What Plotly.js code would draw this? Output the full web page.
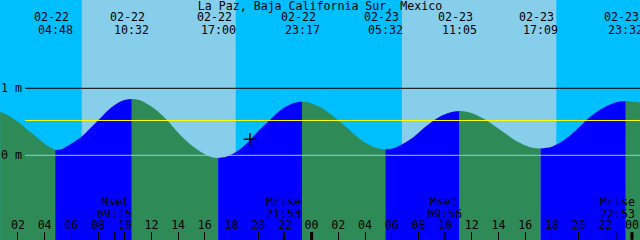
<!DOCTYPE html>
<html>
<head>
<meta charset="utf-8">
<script src="https://cdn.plot.ly/plotly-3.0.1.min.js"></script>
<style>
  html, body { margin: 0; padding: 0; background: #00BFFF; }
  #chart { width: 640px; height: 240px; }
</style>
</head>
<body>
<div id="chart"></div>
<script>
// ---------------- data ----------------
const stationName = "La Paz, Baja California Sur, Mexico";

// tide level (metres)
const curveTimes = [
  "2024-02-22 00:40","2024-02-22 01:24","2024-02-22 02:09","2024-02-22 02:54","2024-02-22 03:39","2024-02-22 04:24",
  "2024-02-22 04:48",
  "2024-02-22 05:15","2024-02-22 05:39","2024-02-22 06:47","2024-02-22 07:24","2024-02-22 08:09","2024-02-22 08:54","2024-02-22 09:39","2024-02-22 10:05",
  "2024-02-22 10:32",
  "2024-02-22 11:00","2024-02-22 11:24","2024-02-22 12:24","2024-02-22 13:09","2024-02-22 13:54","2024-02-22 14:39","2024-02-22 15:24","2024-02-22 16:09","2024-02-22 16:35",
  "2024-02-22 17:00",
  "2024-02-22 17:25","2024-02-22 17:53","2024-02-22 18:38","2024-02-22 19:23","2024-02-22 20:08","2024-02-22 20:46","2024-02-22 21:38","2024-02-22 22:23","2024-02-22 22:50",
  "2024-02-22 23:17",
  "2024-02-22 23:45","2024-02-23 00:38","2024-02-23 01:23","2024-02-23 02:08","2024-02-23 02:53","2024-02-23 03:38","2024-02-23 04:22","2024-02-23 05:00",
  "2024-02-23 05:32",
  "2024-02-23 06:05","2024-02-23 06:45","2024-02-23 07:37","2024-02-23 08:37","2024-02-23 09:37","2024-02-23 10:22",
  "2024-02-23 11:05",
  "2024-02-23 11:35","2024-02-23 12:07","2024-02-23 13:07","2024-02-23 14:07","2024-02-23 15:07","2024-02-23 16:07","2024-02-23 16:40",
  "2024-02-23 17:09",
  "2024-02-23 17:30","2024-02-23 17:52","2024-02-23 18:37","2024-02-23 19:22","2024-02-23 20:06","2024-02-23 20:51","2024-02-23 21:36","2024-02-23 22:21","2024-02-23 23:00",
  "2024-02-23 23:32",
  "2024-02-24 00:05","2024-02-24 00:36"
];
const curveLevels = [
  0.65, 0.58, 0.48, 0.35, 0.23, 0.12,
  0.08,
  0.09, 0.13, 0.28, 0.40, 0.55, 0.70, 0.80, 0.83,
  0.84,
  0.83, 0.80, 0.67, 0.53, 0.36, 0.21, 0.09, 0.00, -0.03,
  -0.04,
  -0.03, 0.00, 0.09, 0.23, 0.39, 0.51, 0.67, 0.76, 0.79,
  0.80,
  0.79, 0.72, 0.62, 0.50, 0.37, 0.24, 0.15, 0.10,
  0.09,
  0.10, 0.16, 0.27, 0.44, 0.58, 0.64,
  0.66,
  0.65, 0.62, 0.52, 0.38, 0.24, 0.14, 0.11,
  0.10,
  0.11, 0.12, 0.19, 0.30, 0.43, 0.57, 0.68, 0.76, 0.80,
  0.81,
  0.80, 0.79
];

// high / low tide events
const extremeTimes = [
  "2024-02-22 04:48","2024-02-22 10:32","2024-02-22 17:00","2024-02-22 23:17",
  "2024-02-23 05:32","2024-02-23 11:05","2024-02-23 17:09","2024-02-23 23:32"
];

// sun (day periods)
const sunriseTimes = ["2024-02-22 06:47","2024-02-23 06:46"];
const sunsetTimes  = ["2024-02-22 18:19","2024-02-23 18:20"];

// moon events
const moonTimes = ["2024-02-22 09:15","2024-02-22 21:53","2024-02-23 09:56","2024-02-23 22:53"];
const moonKinds = ["Mset","Mrise","Mset","Mrise"];

// reference levels
const levelTickVals = [0, 1];
const levelTickText = ["0 m", "1 m"];
const meanLevel = 0.52;

// current time marker
const nowTime = "2024-02-22 19:23";
const nowLevel = 0.24;

// hour ticks
const hourTickTimes = [
  "2024-02-22 02:00","2024-02-22 04:00","2024-02-22 06:00","2024-02-22 08:00","2024-02-22 10:00","2024-02-22 12:00",
  "2024-02-22 14:00","2024-02-22 16:00","2024-02-22 18:00","2024-02-22 20:00","2024-02-22 22:00","2024-02-23 00:00",
  "2024-02-23 02:00","2024-02-23 04:00","2024-02-23 06:00","2024-02-23 08:00","2024-02-23 10:00","2024-02-23 12:00",
  "2024-02-23 14:00","2024-02-23 16:00","2024-02-23 18:00","2024-02-23 20:00","2024-02-23 22:00","2024-02-24 00:00"
];
const hourTickLabels = ["02","04","06","08","10","12","14","16","18","20","22","00",
                        "02","04","06","08","10","12","14","16","18","20","22","00"];
const dayBoundaries = ["2024-02-23 00:00","2024-02-24 00:00"];

// ---------------- style ----------------
const FONT = "DejaVu Sans Mono, monospace";
const FS = 11.6;
const NIGHT = "#00BFFF", DAY = "#87CEEB";
const FALLING = "#2E8B57", RISING = "#0000FF";
const yRange = [-1.264, 2.318];
const xRange = ["2024-02-22 00:39:30", "2024-02-24 00:36"];
const floorLevel = -3;

// ---------------- traces ----------------
const traces = [];
const breaks = [0];
curveTimes.forEach((t, i) => { if (extremeTimes.includes(t)) breaks.push(i); });
breaks.push(curveTimes.length - 1);

for (let k = 0; k < breaks.length - 1; k++) {
  const a = breaks[k], b = breaks[k + 1];
  if (b <= a) continue;
  const xs = curveTimes.slice(a, b + 1);
  const ys = curveLevels.slice(a, b + 1);
  const rising = ys[ys.length - 1] > ys[0];
  traces.push({
    x: [xs[0], xs[xs.length - 1]], y: [floorLevel, floorLevel],
    mode: "lines", line: { width: 0 }, hoverinfo: "skip", showlegend: false
  });
  traces.push({
    x: xs, y: ys, mode: "lines",
    line: { width: 0, shape: "spline", smoothing: 1 },
    fill: "tonexty", fillcolor: rising ? RISING : FALLING,
    hoverinfo: "skip", showlegend: false
  });
}

traces.push({
  x: [nowTime], y: [nowLevel], mode: "markers",
  marker: { symbol: "cross-thin", size: 9, line: { color: "#000", width: 1.5 } },
  hoverinfo: "skip", showlegend: false
});

// ---------------- shapes ----------------
const shapes = [];
sunriseTimes.forEach((sr, i) => {
  shapes.push({ type: "rect", layer: "below", xref: "x", yref: "paper",
    x0: sr, x1: sunsetTimes[i], y0: 0, y1: 1, fillcolor: DAY, line: { width: 0 } });
});
const lineStart = 25 / 640;
shapes.push({ type: "line", xref: "paper", yref: "y", x0: lineStart, x1: 1, y0: levelTickVals[1], y1: levelTickVals[1], line: { color: "#000", width: 1 } });
shapes.push({ type: "line", xref: "paper", yref: "y", x0: lineStart, x1: 1, y0: meanLevel, y1: meanLevel, line: { color: "#FFFF00", width: 1 } });
shapes.push({ type: "line", xref: "paper", yref: "y", x0: lineStart, x1: 1, y0: levelTickVals[0], y1: levelTickVals[0], line: { color: "#87CEEB", width: 1 } });
moonTimes.forEach(t => {
  shapes.push({ type: "line", xref: "x", yref: "paper", x0: t, x1: t, y0: 0, y1: 8 / 240, line: { color: "#000", width: 1 } });
});
dayBoundaries.forEach(t => {
  shapes.push({ type: "line", xref: "x", yref: "paper", x0: t, x1: t, y0: 0, y1: 8 / 240, line: { color: "#000", width: 3 } });
});

// ---------------- annotations ----------------
const annotations = [];
const txtFont = { family: FONT, size: FS, color: "#000" };
extremeTimes.forEach(t => {
  const md = t.slice(5, 10), hm = t.slice(11, 16);
  annotations.push({ xref: "x", yref: "paper", x: t, y: 1 - 17.5 / 240, text: md, showarrow: false,
    xanchor: "center", yanchor: "middle", xshift: -4, font: txtFont });
  annotations.push({ xref: "x", yref: "paper", x: t, y: 1 - 29.5 / 240, text: hm, showarrow: false,
    xanchor: "center", yanchor: "middle", font: txtFont });
});
moonTimes.forEach((t, i) => {
  annotations.push({ xref: "x", yref: "paper", x: t, y: 1 - 201.5 / 240, text: moonKinds[i], showarrow: false,
    xanchor: "center", yanchor: "middle", font: txtFont, borderpad: 0 });
  annotations.push({ xref: "x", yref: "paper", x: t, y: 1 - 213.5 / 240, text: t.slice(11, 16), showarrow: false,
    xanchor: "center", yanchor: "middle", font: txtFont, borderpad: 0 });
});
levelTickVals.forEach((v, i) => {
  annotations.push({ xref: "paper", yref: "y", x: 0, y: v, text: levelTickText[i], showarrow: false,
    xanchor: "left", yanchor: "middle", xshift: 0, font: txtFont, borderpad: 0 });
});

// ---------------- layout ----------------
const layout = {
  width: 640, height: 240,
  margin: { l: 0, r: 0, t: 0, b: 0, pad: 0 },
  paper_bgcolor: NIGHT, plot_bgcolor: NIGHT,
  showlegend: false,
  title: { text: stationName, font: txtFont, x: 0.5, xanchor: "center",
           y: 1 - 5.5 / 240, yanchor: "middle", yref: "container", pad: { t: 0, b: 0, l: 0, r: 0 } },
  xaxis: {
    type: "date", range: xRange, fixedrange: true,
    showgrid: false, zeroline: false, showline: false,
    tickmode: "array", tickvals: hourTickTimes, ticktext: hourTickLabels,
    ticks: "inside", ticklen: 8, tickwidth: 1, tickcolor: "#000",
    ticklabelposition: "inside", tickfont: txtFont
  },
  yaxis: {
    range: yRange, fixedrange: true,
    showgrid: false, zeroline: false, showline: false,
    showticklabels: false, ticks: ""
  },
  shapes: shapes,
  annotations: annotations
};

Plotly.newPlot("chart", traces, layout, { staticPlot: true, displayModeBar: false });
</script>
</body>
</html>
